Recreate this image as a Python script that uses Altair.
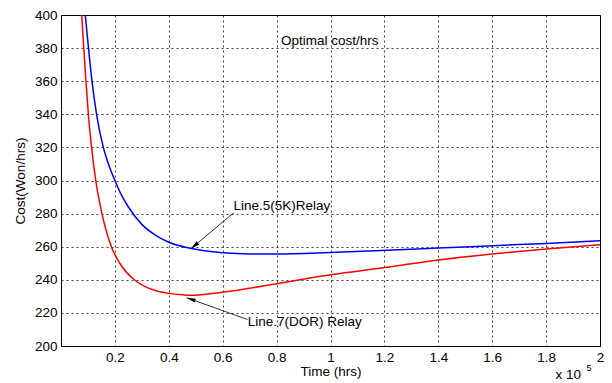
import altair as alt
import pandas as pd

# ---- data (x in units of 10^5 hrs) ----
blue_name = "Line.5(5K)Relay"
blue_x = [0.090, 0.102, 0.115, 0.132, 0.157, 0.176, 0.200, 0.225, 0.250, 0.300, 0.350,
          0.400, 0.480, 0.600, 0.700, 0.800, 1.000, 1.210, 1.400, 1.600, 1.800, 2.000]
blue_y = [400, 380, 360, 340, 320, 310, 300, 291, 284, 273.5, 267,
          262.7, 259, 256.3, 255.6, 255.6, 256.5, 257.8, 259.2, 260.6, 262, 263.6]

red_name = "Line.7(DOR) Relay"
red_x = [0.077, 0.0845, 0.0925, 0.1015, 0.1135, 0.129, 0.152, 0.187, 0.218, 0.272, 0.310,
         0.350, 0.400, 0.450, 0.480, 0.605, 0.800, 1.000, 1.210, 1.400, 1.600, 1.800, 2.000]
red_y = [400, 380, 360, 340, 320, 300, 280, 260, 250, 240, 236,
         233.5, 231.8, 230.9, 230.6, 232.6, 237.6, 243, 247.6, 252, 255.6, 258.6, 261.2]

x_ticks = [0.2, 0.4, 0.6, 0.8, 1.0, 1.2, 1.4, 1.6, 1.8, 2.0]
y_ticks = [200, 220, 240, 260, 280, 300, 320, 340, 360, 380, 400]

# annotations (data coordinates)
note_text = ["Optimal cost/hrs", "Line.5(5K)Relay", "Line.7(DOR) Relay", "x 10"]
note_x = [0.816, 0.640, 0.693, 1.835]
note_y = [384.3, 284.8, 214.7, 182.5]
exp_text = ["5"]
exp_x = [1.950]
exp_y = [186.5]

arrow_x = [0.641, 0.692]
arrow_y = [280.5, 216.0]
arrow_x2 = [0.482, 0.466]
arrow_y2 = [258.8, 229.2]
arrow_angle = [230.6, 289.0]

FONT = "Liberation Sans"
FS = 13.5

df = pd.DataFrame(
    [{"series": blue_name, "x": a, "y": b} for a, b in zip(blue_x, blue_y)]
    + [{"series": red_name, "x": a, "y": b} for a, b in zip(red_x, red_y)]
)
notes = pd.DataFrame({"t": note_text, "x": note_x, "y": note_y})
exps = pd.DataFrame({"t": exp_text, "x": exp_x, "y": exp_y})
arrows = pd.DataFrame({"x": arrow_x, "y": arrow_y, "x2": arrow_x2, "y2": arrow_y2, "a": arrow_angle})

xs = alt.Scale(domain=[0, 2], nice=False, zero=False)
ys = alt.Scale(domain=[200, 400], nice=False, zero=False)

ax_x = alt.Axis(values=x_ticks, format=".1~f", title="Time (hrs)", grid=True,
                gridDash=[2, 3], gridColor="#000000", gridOpacity=0.75,
                ticks=False, labelPadding=4, titlePadding=1, domain=False,
                labelOverlap=False, labelFlush=False)
ax_y = alt.Axis(values=y_ticks, title="Cost(Won/hrs)", grid=True,
                gridDash=[2, 3], gridColor="#000000", gridOpacity=0.75,
                ticks=False, labelPadding=4, titlePadding=7, domain=False,
                labelOverlap=False, labelFlush=False)


def X(field):
    return alt.X(field, type="quantitative", scale=xs, axis=ax_x)


def Y(field):
    return alt.Y(field, type="quantitative", scale=ys, axis=ax_y)


lines = alt.Chart(df).mark_line(strokeWidth=1.5, interpolate="monotone", clip=True).encode(
    x=X("x"), y=Y("y"),
    color=alt.Color("series:N",
                    scale=alt.Scale(domain=[blue_name, red_name], range=["#0000ff", "#ff0000"]),
                    legend=None),
)

text = alt.Chart(notes).mark_text(align="left", baseline="middle", font=FONT, fontSize=FS,
                                  color="#000000").encode(x=X("x"), y=Y("y"), text="t:N")

exp = alt.Chart(exps).mark_text(align="left", baseline="middle", font=FONT, fontSize=9,
                                color="#000000").encode(x=X("x"), y=Y("y"), text="t:N")

shafts = alt.Chart(arrows).mark_rule(color="#000000", strokeWidth=0.8).encode(
    x=X("x"), y=Y("y"), x2="x2:Q", y2="y2:Q")

heads = alt.Chart(arrows).mark_point(shape="M0,0L-0.35,1.6L0.35,1.6Z", filled=True,
                                     color="#000000", size=130, opacity=1).encode(
    x=X("x2"), y=Y("y2"), angle=alt.Angle("a:Q", scale=None))

chart = alt.layer(lines, shafts, heads, text, exp).properties(
    width=539, height=331,
    autosize=alt.AutoSizeParams(type="none"),
    padding={"left": 53, "top": 7, "right": 4, "bottom": 37},
    background="#ffffff",
).configure_view(stroke="#000000", strokeWidth=1).configure_axis(
    labelFont=FONT, labelFontSize=FS, labelColor="#000000",
    titleFont=FONT, titleFontSize=FS, titleColor="#000000", titleFontWeight="normal",
)

chart.save("out.html", embed_options={"renderer": "svg", "actions": False})
